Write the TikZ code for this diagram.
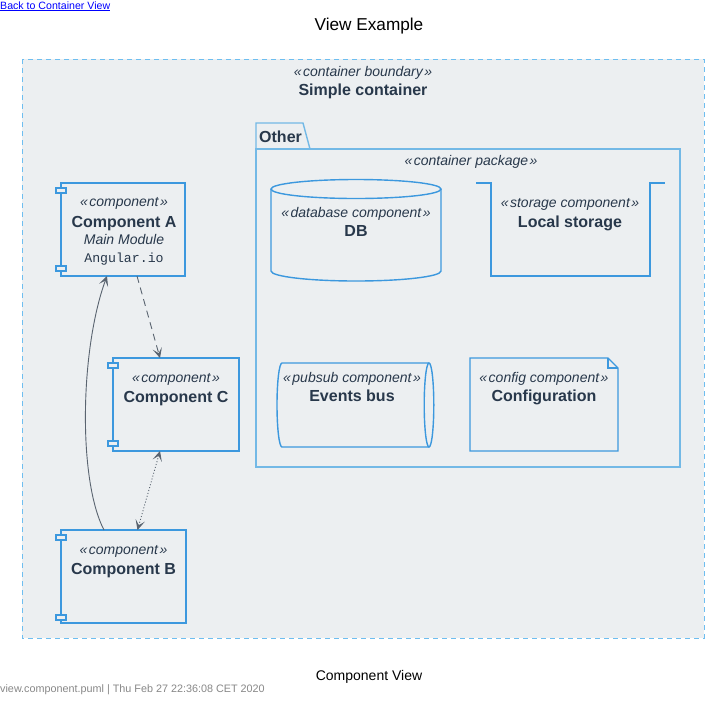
\documentclass[tikz,border=0pt]{standalone}
\usepackage{fontspec}
\setmainfont{Liberation Sans}
\setmonofont{Liberation Mono}
\usetikzlibrary{arrows.meta,calc}
\definecolor{bg}{RGB}{236,239,241}
\definecolor{txt}{RGB}{40,56,75}
\definecolor{compblue}{RGB}{60,152,222}
\definecolor{pkgblue}{RGB}{115,185,230}
\definecolor{bndblue}{RGB}{110,190,240}
\definecolor{arrowgrey}{RGB}{90,100,112}
\definecolor{linkblue}{RGB}{0,0,255}
\definecolor{footgrey}{RGB}{136,136,136}
\tikzset{
  comp/.style={draw=compblue, line width=1.4pt},
  compbox/.style={comp, fill=bg, rectangle, inner sep=0pt, outer sep=0pt},
  port/.style={draw=compblue, line width=1.2pt, fill=bg},
  stereo/.style={font=\itshape\fontsize{14}{16}\selectfont, text=txt, anchor=base, inner sep=0pt},
  cname/.style={font=\bfseries\fontsize{16}{19}\selectfont, text=txt, anchor=base, inner sep=0pt},
  descr/.style={font=\itshape\fontsize{14}{16}\selectfont, text=txt, anchor=base, inner sep=0pt},
  techn/.style={font=\ttfamily\fontsize{13.2}{16}\selectfont, text=txt, anchor=base, inner sep=0pt},
  tip/.tip={Stealth[length=10pt,width=9.5pt,inset=5pt,sep=0pt]},
  rel/.style={draw=arrowgrey, line width=0.9pt, -tip},
  birel/.style={draw=arrowgrey, line width=0.9pt, tip-tip}
}
\newcommand{\stq}[1]{«\kern1.5pt#1\kern1.5pt»}
\begin{document}
\begin{tikzpicture}[x=1pt,y=-1pt]
\useasboundingbox[fill=white] (0,0) rectangle (714,705);

% header
\node[font=\fontsize{10.6}{12}\selectfont, text=linkblue, anchor=base west, inner sep=0pt] (link) at (0,9) {\underline{Back to Container View}};
\node[font=\fontsize{17.2}{20}\selectfont, anchor=base, inner sep=0pt] (title) at (369,30) {View Example};

% container boundary
\draw[draw=bndblue, fill=bg, line width=1pt, dash pattern=on 5pt off 4pt] (22,59) rectangle (704,638);
\node[stereo] (bst) at (363,76) {\stq{container boundary}};
\node[cname] (bname) at (363,95) {Simple container};

% package
\draw[draw=pkgblue, line width=1.4pt] (256,149) -- (256,123) -- (303,123) -- (310,149);
\draw[draw=pkgblue, line width=1.4pt] (256,149) rectangle (680,467);
\node[cname, anchor=base west] (pkname) at (259,142) {Other};
\node[stereo] (pkst) at (471,165) {\stq{container package}};

% DB cylinder
\draw[comp] (271,189) -- (271,271) arc[start angle=180, end angle=0, x radius=85, y radius=10] -- (441,189);
\draw[comp, fill=bg] (356,189) ellipse[x radius=85, y radius=9.5];
\node[stereo] (dbst) at (356,217) {\stq{database component}};
\node[cname] (dbname) at (356,236.5) {DB};

% Local storage
\draw[comp] (476,183) -- (491,183) -- (491,276) -- (650,276) -- (650,183) -- (665,183);
\node[stereo] (lsst) at (570,207) {\stq{storage component}};
\node[cname] (lsname) at (570,227.5) {Local storage};

% Events bus
\draw[comp] (429,363) -- (282,363) arc[start angle=270, end angle=90, x radius=5, y radius=42] -- (429,447);
\draw[comp] (429,405) ellipse[x radius=4.8, y radius=42];
\node[stereo] (ebst) at (352,382.5) {\stq{pubsub component}};
\node[cname] (ebname) at (352,401.5) {Events bus};

% Configuration
\draw[comp] (470,358) -- (608,358) -- (618,368) -- (618,451) -- (470,451) -- cycle;
\draw[comp] (608,358) -- (608,368) -- (618,368);
\node[stereo] (cfst) at (544,382.5) {\stq{config component}};
\node[cname] (cfname) at (544,401.5) {Configuration};

% Component A
\node[compbox, minimum width=124, minimum height=93] (compA) at (123,229.5) {};
\draw[port] (56,188) rectangle (66,193);
\draw[port] (56,266) rectangle (66,271);
\node[stereo] (ast) at (124,206.5) {\stq{component}};
\node[cname] (aname) at (124,227) {Component A};
\node[descr] (adesc) at (124,244.5) {Main Module};
\node[techn] (atech) at (124,262.5) {Angular.io};

% Component C
\node[compbox, minimum width=126, minimum height=93] (compC) at (176,404.5) {};
\draw[port] (108,363) rectangle (118,368);
\draw[port] (108,441) rectangle (118,446);
\node[stereo] (cst) at (176,382.5) {\stq{component}};
\node[cname] (cname) at (176,402) {Component C};

% Component B
\node[compbox, minimum width=125, minimum height=93] (compB) at (123.5,576.5) {};
\draw[port] (56,535) rectangle (66,540);
\draw[port] (56,615) rectangle (66,620);
\node[stereo] (bst2) at (123.5,554) {\stq{component}};
\node[cname] (bnm) at (123.5,574) {Component B};

% relations
\draw[rel, dash pattern=on 7pt off 5pt] ([xshift=14pt]compA.south) -- ([xshift=-16pt]compC.north);
\draw[rel] ([xshift=-19.5pt]compB.north) .. controls (78,480) and (80,350) .. ([xshift=-16pt]compA.south);
\draw[birel, dash pattern=on 1pt off 2pt] ([xshift=14pt]compB.north) -- ([xshift=-16pt]compC.south);

% footer
\node[font=\fontsize{14}{16}\selectfont, anchor=base, inner sep=0pt] (cap) at (369,680) {Component View};
\node[font=\fontsize{10.8}{12}\selectfont, text=footgrey, anchor=base west, inner sep=0pt] (foot) at (0,692) {view.component.puml | Thu Feb 27 22:36:08 CET 2020};
\end{tikzpicture}
\end{document}
